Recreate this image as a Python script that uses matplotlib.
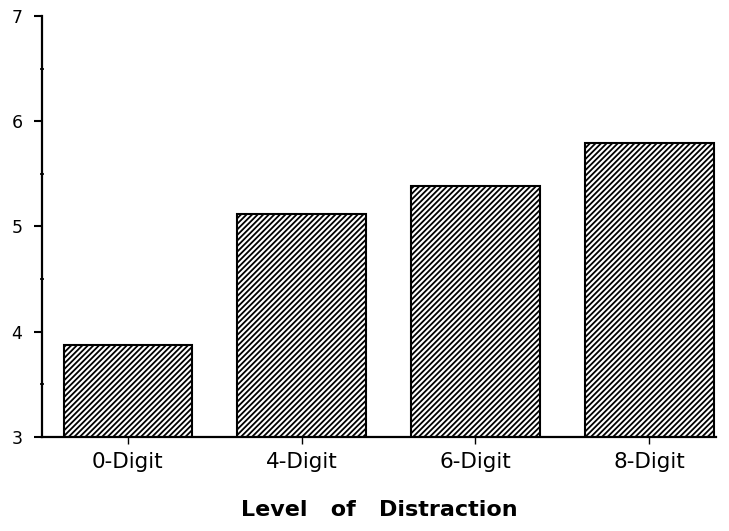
import numpy as np
import matplotlib
matplotlib.use('Agg')
import matplotlib.pyplot as plt
from matplotlib.ticker import MultipleLocator

# data
categories = ['0-Digit', '4-Digit', '6-Digit', '8-Digit']
values = [3.87, 5.12, 5.38, 5.79]
y_ticks = [3, 4, 5, 6, 7]

plt.rcParams['hatch.linewidth'] = 1.3
plt.rcParams['font.family'] = 'DejaVu Sans'

fig = plt.figure(figsize=(7.29, 5.31), dpi=100)
ax = fig.add_axes([0.0576, 0.177, 0.9248, 0.793])

x = np.arange(len(categories))
ax.bar(x, values, width=0.74, bottom=0, color='white', edgecolor='black',
       linewidth=1.5, hatch='//////', zorder=2)

ax.set_ylim(3, 7)
ax.set_xlim(-0.494, 3.385)
ax.set_yticks(y_ticks)
ax.set_yticklabels([str(t) for t in y_ticks], fontsize=12.5)
ax.yaxis.set_minor_locator(MultipleLocator(0.5))
ax.set_xticks(x)
ax.set_xticklabels(categories, fontsize=15.5)

ax.spines['top'].set_visible(False)
ax.spines['right'].set_visible(False)
ax.spines['left'].set_linewidth(1.6)
ax.spines['bottom'].set_linewidth(1.6)

ax.tick_params(axis='y', which='major', direction='out', length=6, width=1.5, pad=8)
ax.tick_params(axis='y', which='minor', direction='inout', length=3, width=1.2)
ax.tick_params(axis='x', which='major', direction='out', length=5, width=1, pad=6)

ax.set_xlabel('Level   of   Distraction', fontsize=16, fontweight='bold', labelpad=20)

fig.savefig('out.png', dpi=100, facecolor='white')
